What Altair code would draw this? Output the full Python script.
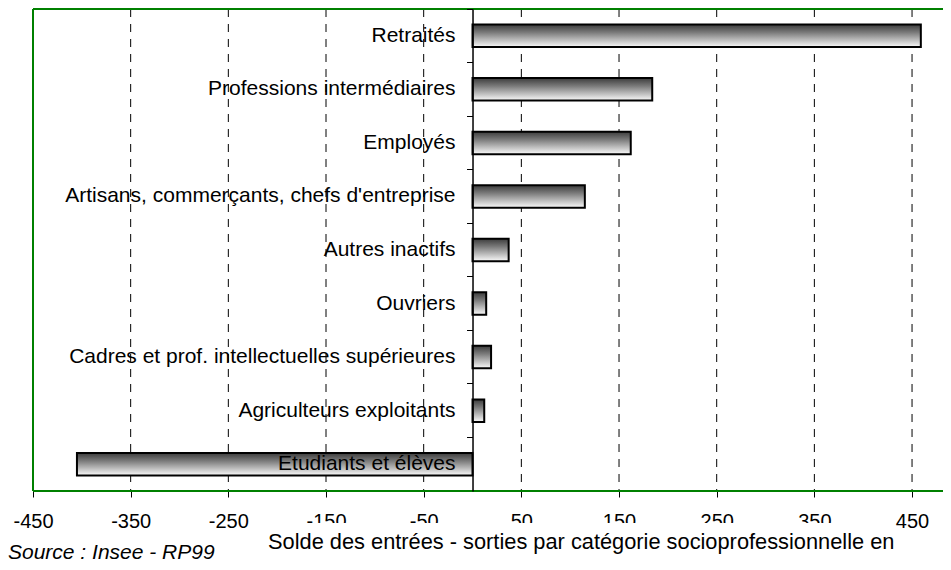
import altair as alt
import pandas as pd

categories = [
    "Retraités",
    "Professions intermédiaires",
    "Employés",
    "Artisans, commerçants, chefs d'entreprise",
    "Autres inactifs",
    "Ouvriers",
    "Cadres et prof. intellectuelles supérieures",
    "Agriculteurs exploitants",
    "Etudiants et élèves",
]
values = [459, 184, 162, 115, 37, 14, 19, 12, -405]
tick_values = [-450, -350, -250, -150, -50, 50, 150, 250, 350, 450]
grid_values = tick_values[1:]
title_text = "Solde des entrées - sorties par catégorie socioprofessionnelle en"
source_text = "Source : Insee - RP99"

W, H = 910, 482
X_MIN, X_MAX = -450, 481.7
zero_px = W * (0 - X_MIN) / (X_MAX - X_MIN)
GREEN = "#008000"

df = pd.DataFrame({"cat": categories, "val": values})
grid_df = pd.DataFrame({"g": grid_values})
one = pd.DataFrame({"k": [0]})

x_scale = alt.Scale(domain=[X_MIN, X_MAX], nice=False, zero=False)
y_enc = alt.Y(
    "cat:N",
    sort=categories,
    scale=alt.Scale(paddingInner=0, paddingOuter=0),
    axis=alt.Axis(
        orient="left", offset=-zero_px, labels=False, title=None,
        bandPosition=0, tickSize=6, tickColor="black", tickWidth=1,
        domainColor="black", domainWidth=1.5, grid=False, zindex=1,
    ),
)

grid = alt.Chart(grid_df).mark_rule(
    color="black", strokeWidth=1, strokeDash=[8, 7]
).encode(x=alt.X("g:Q", scale=x_scale, title=None))

border_left = alt.Chart(one).mark_rule(color=GREEN, strokeWidth=2).encode(
    x=alt.value(0), y=alt.value(0), y2=alt.value(H)
)
border_top = alt.Chart(one).mark_rule(color=GREEN, strokeWidth=2).encode(
    x=alt.value(0), x2=alt.value(W), y=alt.value(0)
)
border_bottom = alt.Chart(one).mark_rule(color=GREEN, strokeWidth=2).encode(
    x=alt.value(0), x2=alt.value(W), y=alt.value(H)
)

gradient = alt.Gradient(
    gradient="linear",
    stops=[
        alt.GradientStop(color="#3c3c3c", offset=0),
        alt.GradientStop(color="#7a7a7a", offset=0.35),
        alt.GradientStop(color="#fafafa", offset=1),
    ],
    x1=0, x2=0, y1=0, y2=1,
)

bars = alt.Chart(df).mark_bar(
    height={"band": 0.42}, stroke="black", strokeWidth=2, color=gradient
).encode(
    x=alt.X(
        "val:Q", scale=x_scale, title=None,
        axis=alt.Axis(
            values=tick_values, grid=False, domain=False, tickSize=6,
            tickColor="black", labelFontSize=20, labelColor="black",
            labelPadding=14, zindex=0, labelFlush=False, labelOverlap=False,
            labelExpr="datum.value < 0 ? '-' + abs(datum.value) : '' + datum.value",
        ),
    ),
    y=y_enc,
)

labels = alt.Chart(df).mark_text(
    align="right", baseline="middle", dx=-17, fontSize=21, color="black"
).encode(x=alt.datum(0), y=alt.Y("cat:N", sort=categories), text="cat:N")

cover = alt.Chart(one).mark_rect(color="white").encode(
    x=alt.value(232), x2=alt.value(861), y=alt.value(514), y2=alt.value(545)
)

title = alt.Chart(pd.DataFrame({"t": [title_text]})).mark_text(
    align="left", baseline="alphabetic", fontSize=21.8, color="black",
).encode(x=alt.value(235), y=alt.value(540), text="t:N")

source = alt.Chart(pd.DataFrame({"t": [source_text]})).mark_text(
    align="left", baseline="alphabetic", fontSize=21, fontStyle="italic",
    color="black",
).encode(x=alt.value(-25), y=alt.value(550), text="t:N")

chart = alt.layer(
    grid, border_left, border_top, border_bottom, bars, labels, cover, title, source
).properties(
    width=W, height=H,
    padding={"left": 25, "top": 1, "right": 0, "bottom": 71},
    autosize=alt.AutoSizeParams(type="none"),
).configure(font="Liberation Sans").configure_view(strokeWidth=0)

chart.save("out.html", embed_options={"renderer": "svg", "actions": False})
